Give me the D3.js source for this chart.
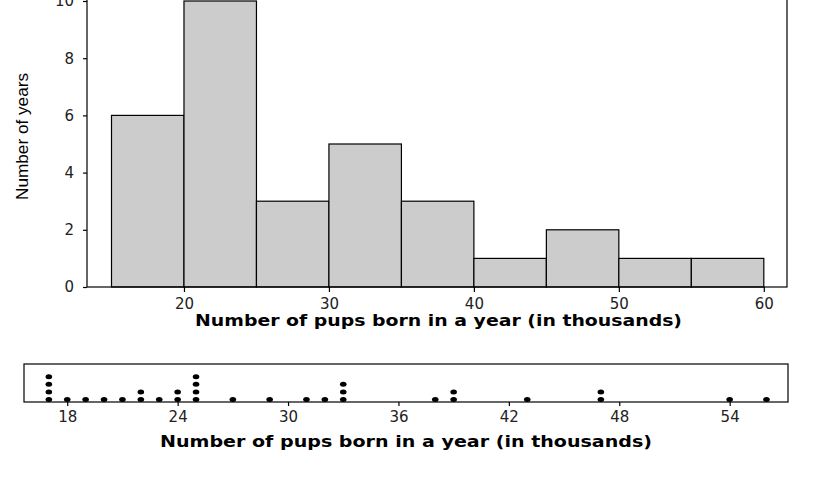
<!DOCTYPE html>
<html>
<head>
<meta charset="utf-8">
<script src="https://cdn.jsdelivr.net/npm/d3@7"></script>
<style>
  html, body { margin: 0; padding: 0; background: #fff; }
  svg { display: block; }
</style>
</head>
<body>
<svg id="chart" width="830" height="478"></svg>
<script>
// ---- data ----
const binEdges = [15, 20, 25, 30, 35, 40, 45, 50, 55, 60];
const binCounts = [6, 10, 3, 5, 3, 1, 2, 1, 1];
const histXTicks = [20, 30, 40, 50, 60];
const histYTicks = [0, 2, 4, 6, 8, 10];
const dotValues = [17, 17, 17, 17, 18, 19, 20, 21, 22, 22, 23, 24, 24, 25, 25, 25, 25,
                   27, 29, 31, 32, 33, 33, 33, 38, 39, 39, 43, 47, 47, 54, 56];
const dotXTicks = [18, 24, 30, 36, 42, 48, 54];
const xTitle = "Number of pups born in a year (in thousands)";
const yTitle = "Number of years";

const svg = d3.select("#chart");

// ---- histogram ----
const hx = d3.scaleLinear().domain([13.31, 61.6]).range([87, 787]);
const hy = d3.scaleLinear().domain([0, 10]).range([287, 1]);

const bins = binCounts.map((c, i) => ({ x0: binEdges[i], x1: binEdges[i + 1], n: c }));

svg.append("g").selectAll("rect").data(bins).join("rect")
  .attr("x", d => hx(d.x0))
  .attr("y", d => hy(d.n))
  .attr("width", d => hx(d.x1) - hx(d.x0))
  .attr("height", d => hy(0) - hy(d.n))
  .attr("fill", "#cccccc")
  .attr("stroke", "#000")
  .attr("stroke-width", 1.2);

// frame
svg.append("rect")
  .attr("x", hx.range()[0]).attr("y", -5)
  .attr("width", hx.range()[1] - hx.range()[0]).attr("height", hy(0) + 5)
  .attr("fill", "none").attr("stroke", "#000").attr("stroke-width", 1.2);

const gx = svg.append("g").attr("transform", `translate(0,${hy(0)})`)
  .call(d3.axisBottom(hx).tickValues(histXTicks).tickSize(5).tickPadding(6).tickFormat(d3.format("d")));
const gy = svg.append("g").attr("transform", `translate(${hx.range()[0]},0)`)
  .call(d3.axisLeft(hy).tickValues(histYTicks).tickSize(4).tickPadding(9).tickFormat(d3.format("d")));
[gx, gy].forEach(g => {
  g.select(".domain").remove();
  g.selectAll("line").attr("stroke", "#000").attr("stroke-width", 1.2);
  g.selectAll("text").attr("font-family", "DejaVu Sans, Verdana, sans-serif")
    .attr("font-size", 15).attr("fill", "#222");
});

svg.append("text")
  .attr("x", 438.5).attr("y", 326)
  .attr("text-anchor", "middle")
  .attr("font-family", "DejaVu Sans, Verdana, sans-serif")
  .attr("font-weight", "bold").attr("font-size", 15)
  .attr("textLength", 487).attr("lengthAdjust", "spacingAndGlyphs")
  .text(xTitle);

svg.append("text")
  .attr("transform", "translate(28,136.5) rotate(-90)")
  .attr("text-anchor", "middle")
  .attr("font-family", "Liberation Sans, Arial, sans-serif")
  .attr("font-size", 16)
  .attr("textLength", 127).attr("lengthAdjust", "spacingAndGlyphs")
  .text(yTitle);

// ---- dot plot ----
const dx = d3.scaleLinear().domain([15.65, 57.17]).range([24, 788]);
const boxTop = 364, boxBottom = 402;

svg.append("rect")
  .attr("x", dx.range()[0]).attr("y", boxTop)
  .attr("width", dx.range()[1] - dx.range()[0]).attr("height", boxBottom - boxTop)
  .attr("fill", "none").attr("stroke", "#000").attr("stroke-width", 1.2);

const counter = new Map();
const dots = dotValues.map(v => {
  const k = counter.get(v) || 0;
  counter.set(v, k + 1);
  return { v, k };
});
svg.append("g").selectAll("ellipse").data(dots).join("ellipse")
  .attr("cx", d => dx(d.v))
  .attr("cy", d => 399.5 - d.k * 7.6)
  .attr("rx", 3.3).attr("ry", 2.5)
  .attr("fill", "#000");

const gd = svg.append("g").attr("transform", `translate(0,${boxBottom})`)
  .call(d3.axisBottom(dx).tickValues(dotXTicks).tickSize(4).tickPadding(5).tickFormat(d3.format("d")));
gd.select(".domain").remove();
gd.selectAll("line").attr("stroke", "#000").attr("stroke-width", 1.2);
gd.selectAll("text").attr("font-family", "DejaVu Sans, Verdana, sans-serif")
  .attr("font-size", 15).attr("fill", "#222");

svg.append("text")
  .attr("x", 406).attr("y", 447)
  .attr("text-anchor", "middle")
  .attr("font-family", "DejaVu Sans, Verdana, sans-serif")
  .attr("font-weight", "bold").attr("font-size", 15)
  .attr("textLength", 492).attr("lengthAdjust", "spacingAndGlyphs")
  .text(xTitle);
</script>
</body>
</html>
